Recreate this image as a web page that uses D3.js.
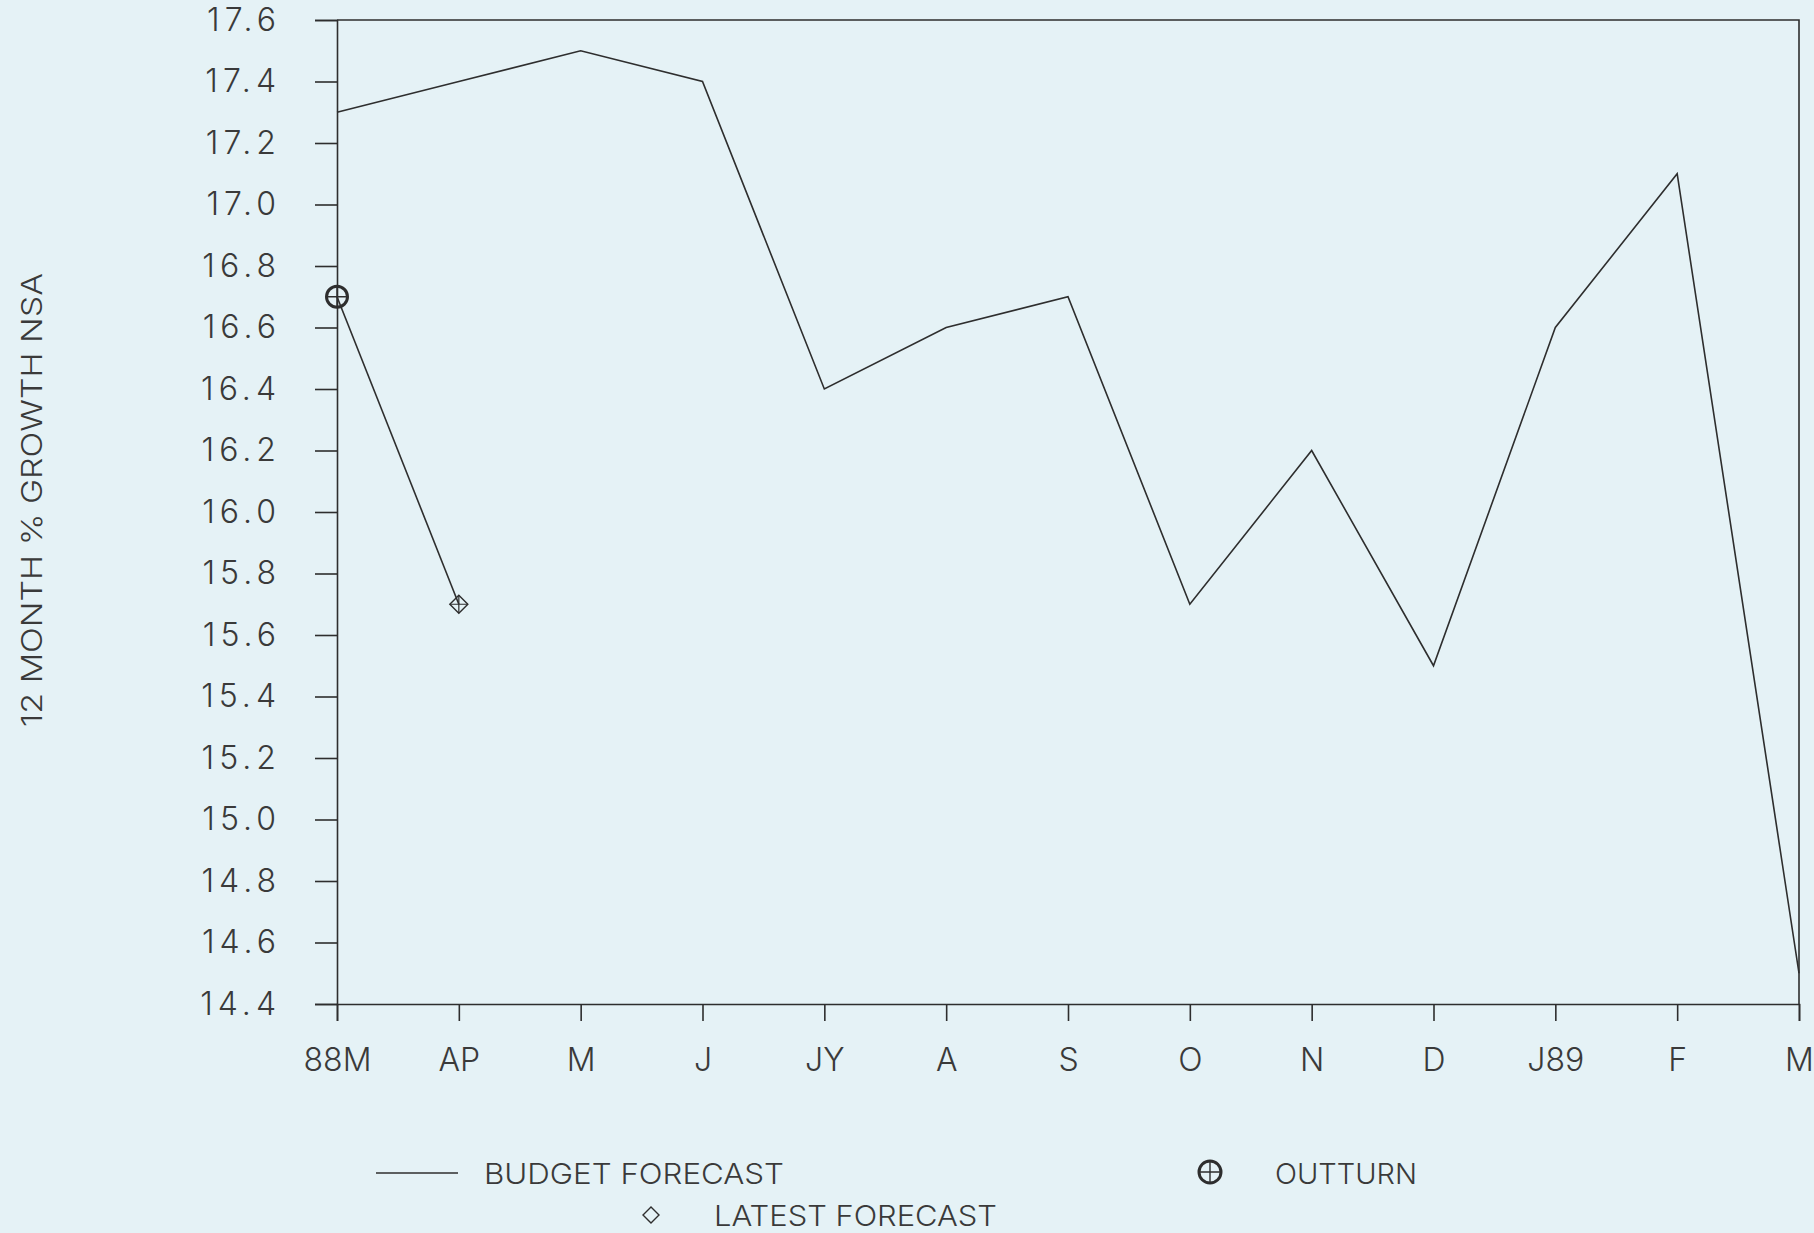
<!DOCTYPE html>
<html>
<head>
<meta charset="utf-8">
<script src="https://cdn.jsdelivr.net/npm/d3@7/dist/d3.min.js"></script>
<style>
  html, body { margin: 0; padding: 0; background: #e5f2f6; }
  svg { display: block; }
  text { font-family: "Inter", "Liberation Sans", sans-serif; font-weight: 300; fill: #3a3a3a; }
</style>
</head>
<body>
<script>
// Monthly 12-month % growth, March 1988 to March 1989
const months = ["88M", "AP", "M", "J", "JY", "A", "S", "O", "N", "D", "J89", "F", "M"];
const budgetForecast = [17.3, 17.4, 17.5, 17.4, 16.4, 16.6, 16.7, 15.7, 16.2, 15.5, 16.6, 17.1, 14.5];
const outturnMonths = ["88M"];
const outturnValues = [16.7];
const latestMonths = ["88M", "AP"];
const latestValues = [16.7, 15.7];
const yTicks = [14.4, 14.6, 14.8, 15.0, 15.2, 15.4, 15.6, 15.8, 16.0, 16.2, 16.4, 16.6, 16.8, 17.0, 17.2, 17.4, 17.6];

const W = 1814, H = 1233;
const plotL = 337, plotR = 1799, plotT = 20, plotB = 1004;
const ink = "#2e2e2e";

const svg = d3.select("body").append("svg").attr("width", W).attr("height", H);

// month positions are indexed so the repeated "M" label stays distinct
const x = d3.scalePoint().domain(d3.range(months.length)).range([plotL, plotR]);
const xOf = m => x(months.indexOf(m));
const y = d3.scaleLinear().domain([14.4, 17.6]).range([plotB, plotT]);

// frame: top and right edges
svg.append("path")
  .attr("d", `M${plotL},${plotT}H${plotR}V${plotB}`)
  .attr("fill", "none").attr("stroke", ink).attr("stroke-width", 1.6);

// y axis
const yAxis = svg.append("g").attr("transform", `translate(${plotL},0)`)
  .call(d3.axisLeft(y).tickValues(yTicks).tickFormat(d3.format(".1f")).tickSize(22).tickPadding(34));
// x axis
const xAxis = svg.append("g").attr("transform", `translate(0,${plotB})`)
  .call(d3.axisBottom(x).tickFormat(i => months[i]).tickSize(17).tickPadding(27));

[yAxis, xAxis].forEach(g => {
  g.select(".domain").attr("stroke", ink).attr("stroke-width", 1.6);
  g.selectAll(".tick line").attr("stroke", ink).attr("stroke-width", 1.6);
  g.selectAll("text").attr("font-size", 32).attr("fill", "#3a3a3a").attr("font-family", null);
});
yAxis.selectAll("text").style("letter-spacing", "5px");
xAxis.selectAll("text").attr("dy", "0.72em");

// budget forecast line
const line = d3.line().x((d, i) => x(i)).y(d => y(d));
svg.append("path").datum(budgetForecast)
  .attr("d", line).attr("fill", "none").attr("stroke", ink).attr("stroke-width", 1.6)
  .attr("stroke-linejoin", "miter");

// latest forecast line
const lline = d3.line().x((d, i) => xOf(latestMonths[i])).y(d => y(d));
svg.append("path").datum(latestValues)
  .attr("d", lline).attr("fill", "none").attr("stroke", ink).attr("stroke-width", 1.6);

// markers
function crossCircle(g, cx, cy, r, sw) {
  g.append("circle").attr("cx", cx).attr("cy", cy).attr("r", r)
    .attr("fill", "none").attr("stroke", ink).attr("stroke-width", sw);
  g.append("path").attr("d", `M${cx - r},${cy}H${cx + r}M${cx},${cy - r}V${cy + r}`)
    .attr("stroke", ink).attr("stroke-width", 1.4);
}
function diamond(g, cx, cy, s, plus) {
  g.append("path").attr("d", `M${cx},${cy - s}L${cx + s},${cy}L${cx},${cy + s}L${cx - s},${cy}Z`)
    .attr("fill", "none").attr("stroke", ink).attr("stroke-width", 1.4);
  if (plus) g.append("path").attr("d", `M${cx - s},${cy}H${cx + s}M${cx},${cy - s}V${cy + s}`)
    .attr("stroke", ink).attr("stroke-width", 1.2);
}
const marks = svg.append("g");
latestMonths.slice(1).forEach((m, i) => diamond(marks, xOf(m), y(latestValues[i + 1]), 9, true));
outturnMonths.forEach((m, i) => crossCircle(marks, xOf(m), y(outturnValues[i]), 10.5, 3));

// y axis title
svg.append("text")
  .attr("transform", `translate(42,500) rotate(-90)`)
  .attr("text-anchor", "middle").attr("font-size", 29)
  .attr("textLength", 454).attr("lengthAdjust", "spacingAndGlyphs")
  .text("12 MONTH % GROWTH NSA");

// legend
const lg = svg.append("g");
lg.append("line").attr("x1", 376).attr("x2", 458).attr("y1", 1173).attr("y2", 1173)
  .attr("stroke", ink).attr("stroke-width", 1.4);
lg.append("text").attr("x", 484).attr("y", 1184).attr("font-size", 29)
  .attr("textLength", 300).attr("lengthAdjust", "spacingAndGlyphs").text("BUDGET FORECAST");
crossCircle(lg, 1210, 1172, 11, 3);
lg.append("text").attr("x", 1275).attr("y", 1184).attr("font-size", 29)
  .attr("textLength", 142).attr("lengthAdjust", "spacingAndGlyphs").text("OUTTURN");
diamond(lg, 651, 1215, 8, false);
lg.append("text").attr("x", 714).attr("y", 1226).attr("font-size", 29)
  .attr("textLength", 283).attr("lengthAdjust", "spacingAndGlyphs").text("LATEST FORECAST");
</script>
</body>
</html>
